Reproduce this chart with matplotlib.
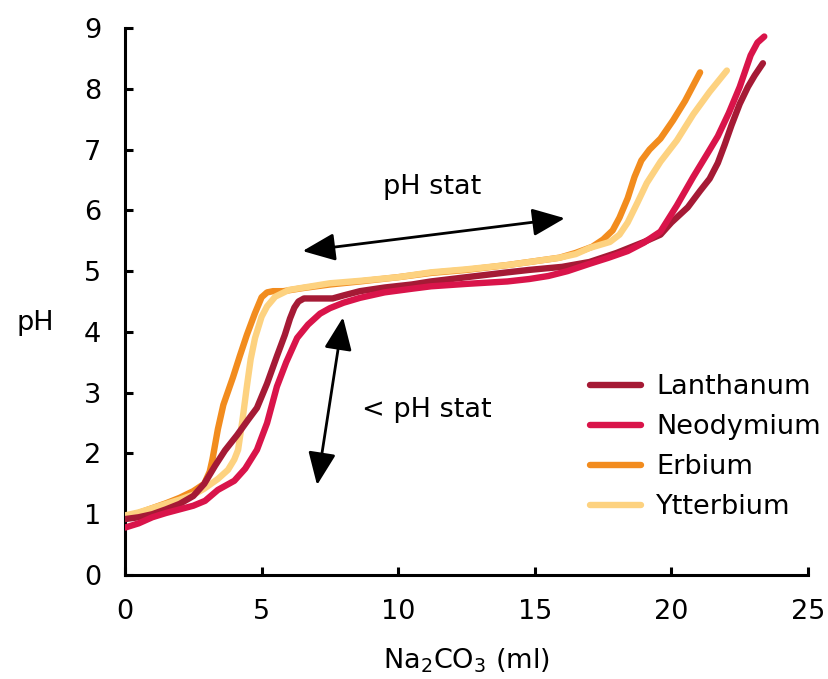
import matplotlib
matplotlib.use("Agg")
import matplotlib.pyplot as plt

# ---- data ----
la_x = [0, 0.5, 1, 1.5, 2, 2.5, 2.9, 3.3, 3.66, 4.1, 4.5, 4.83, 5.2, 5.56, 5.85, 6.04, 6.2, 6.35, 6.55,
        7.0, 7.6, 8.0, 8.6, 9.5, 10.5, 11.2, 12.5, 14.0, 14.8, 16.0, 17.0, 18.0, 19.0, 19.6, 20.0,
        20.6, 21.05, 21.4, 21.7, 21.95, 22.2, 22.5, 22.8, 23.05, 23.35]
la_y = [0.92, 0.95, 1.0, 1.08, 1.17, 1.3, 1.5, 1.8, 2.05, 2.3, 2.55, 2.75, 3.15, 3.6, 3.95, 4.22, 4.4, 4.5, 4.55,
        4.55, 4.55, 4.6, 4.67, 4.73, 4.78, 4.83, 4.9, 4.98, 5.02, 5.07, 5.15, 5.3, 5.48, 5.6, 5.8,
        6.05, 6.32, 6.52, 6.78, 7.08, 7.4, 7.75, 8.03, 8.22, 8.42]

nd_x = [0, 0.5, 1, 1.5, 2, 2.5, 2.93, 3.4, 4.0, 4.4, 4.83, 5.2, 5.56, 5.9, 6.3, 6.7, 7.14, 7.5, 8.0,
        8.6, 9.5, 10.5, 11.2, 12.5, 14.0, 14.8, 15.5, 16.2, 17.0, 17.7, 18.4, 19.0, 19.6, 20.2,
        20.8, 21.3, 21.7, 22.1, 22.5, 22.9, 23.15, 23.4]
nd_y = [0.78, 0.85, 0.95, 1.02, 1.08, 1.14, 1.22, 1.4, 1.55, 1.75, 2.06, 2.5, 3.1, 3.5, 3.9, 4.12, 4.3, 4.39, 4.48,
        4.56, 4.65, 4.71, 4.75, 4.79, 4.83, 4.87, 4.92, 5.0, 5.12, 5.22, 5.33, 5.47, 5.65, 6.08,
        6.55, 6.92, 7.22, 7.6, 8.03, 8.55, 8.76, 8.86]

er_x = [0, 0.5, 1, 1.5, 2, 2.5, 2.9, 3.1, 3.2, 3.4, 3.6, 3.95, 4.2, 4.46, 4.75, 5.0, 5.2, 5.42, 5.8,
        6.5, 7.5, 8.6, 10, 11.2, 12.5, 14, 14.8, 15.9, 16.5, 17.1, 17.5, 17.85, 18.1, 18.4, 18.65,
        18.9, 19.2, 19.6, 20.06, 20.5, 21.05]
er_y = [0.96, 1.02, 1.1, 1.18, 1.27, 1.38, 1.5, 1.7, 1.9, 2.4, 2.8, 3.25, 3.6, 3.95, 4.3, 4.57, 4.65, 4.67, 4.67,
        4.72, 4.78, 4.83, 4.9, 4.97, 5.02, 5.1, 5.15, 5.22, 5.3, 5.4, 5.52, 5.67, 5.88, 6.2, 6.55,
        6.82, 7.0, 7.18, 7.48, 7.8, 8.27]

yb_x = [0, 0.5, 1, 1.5, 2, 2.5, 2.9, 3.4, 3.77, 4.0, 4.14, 4.3, 4.46, 4.6, 4.76, 5.0, 5.2, 5.5, 6.0,
        7.5, 8.6, 10, 11.2, 12.5, 14, 14.8, 15.9, 16.5, 17.0, 17.75, 18.1, 18.4, 18.75, 19.1, 19.6,
        20.2, 20.8, 21.4, 22.03]
yb_y = [0.98, 1.03, 1.1, 1.17, 1.24, 1.32, 1.42, 1.58, 1.73, 1.9, 2.06, 2.55, 3.1, 3.55, 3.9, 4.25, 4.42, 4.58, 4.69,
        4.8, 4.84, 4.9, 4.98, 5.03, 5.1, 5.15, 5.22, 5.28, 5.38, 5.48, 5.6, 5.8, 6.12, 6.45, 6.8,
        7.15, 7.58, 7.95, 8.3]

series_names = ["Lanthanum", "Neodymium", "Erbium", "Ytterbium"]
series_colors = ["#A51A35", "#D9144A", "#F28C1E", "#FDD280"]

x_ticks = [0, 5, 10, 15, 20, 25]
y_ticks = [0, 1, 2, 3, 4, 5, 6, 7, 8, 9]

# annotation arrows (data coords)
arrow1 = ((6.5, 5.33), (16.1, 5.87))
arrow2 = ((7.98, 4.24), (7.03, 1.48))

plt.rcParams['font.family'] = ['DejaVu Sans']
FS = 19.5

fig = plt.figure(figsize=(8.29, 6.79), dpi=100)
ax = fig.add_axes([125/829, 1-575/679, (808-125)/829, (575-28)/679])

data = {
    "Lanthanum": (la_x, la_y, 4),
    "Neodymium": (nd_x, nd_y, 5),
    "Erbium": (er_x, er_y, 2),
    "Ytterbium": (yb_x, yb_y, 3),
}
handles = []
for name, col in zip(series_names, series_colors):
    xs, ys, z = data[name]
    h, = ax.plot(xs, ys, color=col, lw=4.6, solid_capstyle='round',
                 solid_joinstyle='round', zorder=z, label=name)
    handles.append(h)

ax.set_xlim(0, 25)
ax.set_ylim(0, 9)
ax.set_xticks(x_ticks)
ax.set_yticks(y_ticks)
for s in ['top', 'right']:
    ax.spines[s].set_visible(False)
for s in ['left', 'bottom']:
    ax.spines[s].set_linewidth(2.2)
ax.tick_params(direction='in', length=6, width=2.2, labelsize=FS, pad=17)

ax.set_xlabel('Na$_2$CO$_3$ (ml)', fontsize=FS)
ax.xaxis.set_label_coords(0.5, -0.13)
ax.set_ylabel('pH', fontsize=FS, rotation=0, va='center', ha='center')
ax.yaxis.set_label_coords(-0.132, 0.46)

ap = dict(arrowstyle='<|-|>,head_length=2.0,head_width=0.85', color='black', lw=2,
          shrinkA=0, shrinkB=0)
ax.annotate('', xy=arrow1[1], xytext=arrow1[0], arrowprops=ap)
ax.annotate('', xy=arrow2[1], xytext=arrow2[0], arrowprops=ap)
ax.text(11.24, 6.38, 'pH stat', fontsize=FS, ha='center', va='center')
ax.text(8.67, 2.71, '< pH stat', fontsize=FS, ha='left', va='center')

leg = ax.legend(handles=handles, loc='upper left', bbox_to_anchor=(590/829, 1-374/679),
                bbox_transform=fig.transFigure, frameon=False, fontsize=FS,
                handlelength=1.9, handletextpad=0.55, labelspacing=0.52, borderpad=0,
                borderaxespad=0)

fig.savefig('out.png', dpi=100)
